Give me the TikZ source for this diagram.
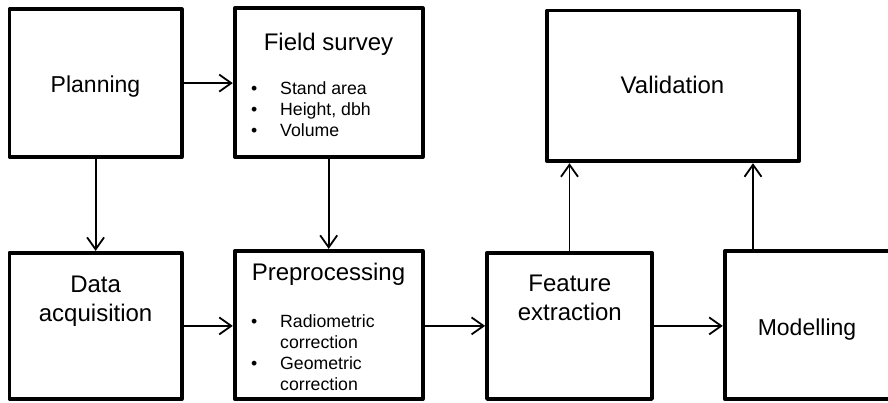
\documentclass[tikz,border=0pt]{standalone}
\usepackage{fontspec}
\setmainfont{Liberation Sans}
\usetikzlibrary{arrows.meta}
\begin{document}
\begin{tikzpicture}[x=1pt,y=-1pt,
  box/.style={draw, rectangle, line width=3.8pt, line join=round, inner sep=0pt, fill=white},
  conn/.style={line width=1.8pt, -{Straight Barb[length=12pt,width=17pt]}},
  title/.style={font=\fontsize{24}{29}\selectfont, align=center, inner sep=0pt, anchor=base},
  bullets/.style={font=\fontsize{17.7}{21}\selectfont, inner sep=0pt, anchor=base west},
]
\useasboundingbox (0,0) rectangle (888,402);

% boxes
\node (plan)  [box, minimum width=172.2pt, minimum height=147.8pt] at (95.6,83.1) {};
\node (field) [box, minimum width=188pt,   minimum height=148.8pt] at (328.7,82.6) {};
\node (val)   [box, minimum width=252pt,   minimum height=150.8pt] at (673,85.9) {};
\node (data)  [box, minimum width=172.2pt, minimum height=146.2pt] at (95.6,325.9) {};
\node (pre)   [box, minimum width=188pt,   minimum height=148.2pt] at (328.7,324.9) {};
\node (feat)  [box, minimum width=165pt,   minimum height=146.2pt] at (569.5,325.9) {};
\node (mod)   [box, minimum width=165.3pt, minimum height=147.7pt] at (807.3,325.2) {};

% texts
\node (tplan)  [title, font=\fontsize{23}{29}\selectfont] at (95.5,92) {Planning};
\node (tfield) [title] at (328.5,50) {Field survey};
\node (tval)   [title] at (672.5,93) {Validation};
\node (tdata)  [title] at (95.6,321.7) {Data\\acquisition};
\node (tpre)   [title] at (328.5,280) {Preprocessing};
\node (tfeat)  [title] at (569.8,320.7) {Feature\\extraction};
\node (tmod)   [title, font=\fontsize{23}{29}\selectfont] at (807,335) {Modelling};

\node (bfield) [bullets] at (251,94) {%
  \begin{tabular}[t]{@{}p{29pt}@{}l@{}}
  \textbullet & Stand area\\
  \textbullet & Height, dbh\\
  \textbullet & Volume
  \end{tabular}};
\node (bpre) [bullets] at (251,327) {%
  \begin{tabular}[t]{@{}p{29pt}@{}l@{}}
  \textbullet & Radiometric\\
              & correction\\
  \textbullet & Geometric\\
              & correction
  \end{tabular}};

% connectors
\draw[conn] (plan.east) -- (plan.east -| field.west);
\draw[conn] (plan.south) -- (plan.south |- data.north);
\draw[conn] (field.south) -- (field.south |- pre.north);
\draw[conn] (data.east) -- (data.east -| pre.west);
\draw[conn] (pre.east |- data.east) -- (data.east -| feat.west);
\draw[conn] (feat.east |- data.east) -- (data.east -| mod.west);
\draw[conn] (feat.north) -- (feat.north |- val.south);
\coordinate (mv) at (753,0);
\draw[conn] (mod.north -| mv) -- (val.south -| mv);
\end{tikzpicture}
\end{document}
